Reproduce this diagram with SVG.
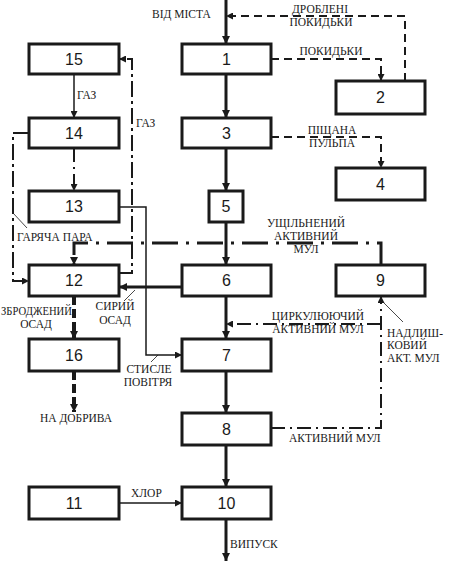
<svg xmlns="http://www.w3.org/2000/svg" width="450" height="563" viewBox="0 0 450 563">
<style>
.box{fill:#fff;stroke:#1a1a1a;stroke-width:3}
.num{font-family:"Liberation Sans",Arial,sans-serif;font-size:16px;fill:#1a1a1a;text-anchor:middle}
.lbl{font-family:"Liberation Serif","Times New Roman",serif;font-size:11.5px;fill:#1a1a1a}
.c{text-anchor:middle}
.e{text-anchor:end}
.ln{fill:none;stroke:#1a1a1a}
.main{stroke-width:3}
.thin{stroke-width:1.5}
.lead{stroke-width:0.8}
.dash{stroke-width:2;stroke-dasharray:8 5}
.dashthick{stroke-width:4;stroke-dasharray:9 4}
.ddthick{stroke-width:3;stroke-dasharray:26 8 3 8}
.dd{stroke-width:2;stroke-dasharray:14 5 2 5}
.dd2{stroke-width:2;stroke-dasharray:16 4 3 4}
</style>
<defs>
<marker id="a" viewBox="0 0 10 10" refX="10" refY="5" markerUnits="userSpaceOnUse" markerWidth="8" markerHeight="8" orient="auto">
<path d="M0,0 L10,5 L0,10 z" fill="#1a1a1a"/>
</marker>
<marker id="as" viewBox="0 0 10 10" refX="10" refY="5" markerUnits="userSpaceOnUse" markerWidth="7" markerHeight="7" orient="auto">
<path d="M0,0 L10,5 L0,10 z" fill="#1a1a1a"/>
</marker>
</defs>
<g id="connectors">
<line class="ln main" x1="226" y1="0" x2="226" y2="44" marker-end="url(#a)"/>
<line class="ln main" x1="226" y1="74" x2="226" y2="118" marker-end="url(#a)"/>
<line class="ln main" x1="226" y1="148" x2="226" y2="191" marker-end="url(#a)"/>
<line class="ln main" x1="226" y1="222" x2="226" y2="265" marker-end="url(#a)"/>
<line class="ln main" x1="226" y1="296" x2="226" y2="339" marker-end="url(#a)"/>
<line class="ln main" x1="226" y1="371" x2="226" y2="413" marker-end="url(#a)"/>
<line class="ln main" x1="226" y1="445" x2="226" y2="487" marker-end="url(#a)"/>
<line class="ln main" x1="226" y1="519" x2="226" y2="561" marker-end="url(#a)"/>
<polyline class="ln dash" points="405,81 405,16 226,16" marker-end="url(#as)"/>
<polyline class="ln dash" points="271,59 381,59 381,81" marker-end="url(#as)"/>
<polyline class="ln dash" points="271,137 381,137 381,168" marker-end="url(#as)"/>
<polyline class="ln ddthick" points="381,265 381,243 74,243 74,265" marker-end="url(#a)"/>
<line class="ln main" x1="182" y1="287" x2="119" y2="287" marker-end="url(#a)"/>
<polyline class="ln thin" points="119,207 146,207 146,355 182,355" marker-end="url(#as)"/>
<line class="ln dashthick" x1="74" y1="296" x2="74" y2="339" marker-end="url(#a)"/>
<line class="ln dashthick" x1="74" y1="371" x2="74" y2="412" marker-end="url(#a)"/>
<polyline class="ln dd" points="271,428 381,428 381,296" marker-end="url(#as)"/>
<line class="ln dd" x1="381" y1="324" x2="226" y2="324" marker-end="url(#as)"/>
<line class="ln thin" x1="119" y1="503" x2="182" y2="503" marker-end="url(#as)"/>
<line class="ln thin" x1="74" y1="74" x2="74" y2="118" marker-end="url(#as)"/>
<polyline class="ln dd2" points="119,273 132,273 132,59 119,59" marker-end="url(#as)"/>
<line class="ln dd" x1="74" y1="148" x2="74" y2="191" marker-end="url(#as)"/>
<polyline class="ln dd2" points="29,133 13,133 13,281 29,281" marker-end="url(#as)"/>
<line class="ln lead" x1="13" y1="213" x2="27" y2="228"/>
<line class="ln lead" x1="135" y1="290" x2="124" y2="301"/>
<line class="ln lead" x1="158" y1="355" x2="151" y2="362"/>
<line class="ln lead" x1="382" y1="301" x2="403" y2="322"/>
</g>
<g id="n1"><rect class="box" x="182" y="44" width="89" height="30"/><text class="num" x="226.5" y="65">1</text></g>
<g id="n2"><rect class="box" x="336" y="81" width="89" height="33"/><text class="num" x="380.5" y="103">2</text></g>
<g id="n3"><rect class="box" x="182" y="118" width="89" height="30"/><text class="num" x="226.5" y="139">3</text></g>
<g id="n4"><rect class="box" x="336" y="168" width="89" height="32"/><text class="num" x="380.5" y="190">4</text></g>
<g id="n5"><rect class="box" x="209" y="191" width="34" height="31"/><text class="num" x="226" y="212">5</text></g>
<g id="n6"><rect class="box" x="182" y="265" width="89" height="31"/><text class="num" x="226.5" y="286">6</text></g>
<g id="n7"><rect class="box" x="182" y="339" width="89" height="32"/><text class="num" x="226.5" y="361">7</text></g>
<g id="n8"><rect class="box" x="182" y="413" width="89" height="32"/><text class="num" x="226.5" y="435">8</text></g>
<g id="n9"><rect class="box" x="336" y="265" width="89" height="31"/><text class="num" x="380.5" y="286">9</text></g>
<g id="n10"><rect class="box" x="182" y="487" width="89" height="32"/><text class="num" x="226.5" y="509">10</text></g>
<g id="n11"><rect class="box" x="29" y="487" width="90" height="32"/><text class="num" x="74" y="509">11</text></g>
<g id="n12"><rect class="box" x="29" y="265" width="90" height="31"/><text class="num" x="74" y="286">12</text></g>
<g id="n13"><rect class="box" x="29" y="191" width="90" height="31"/><text class="num" x="74" y="212">13</text></g>
<g id="n14"><rect class="box" x="29" y="118" width="90" height="30"/><text class="num" x="74" y="139">14</text></g>
<g id="n15"><rect class="box" x="29" y="44" width="90" height="30"/><text class="num" x="74" y="65">15</text></g>
<g id="n16"><rect class="box" x="29" y="339" width="90" height="32"/><text class="num" x="74" y="361">16</text></g>
<g id="labels">
<text class="lbl" x="152" y="18">ВІД МІСТА</text>
<text class="lbl c" x="320" y="13">ДРОБЛЕНІ</text>
<text class="lbl c" x="321" y="26">ПОКИДЬКИ</text>
<text class="lbl c" x="331" y="55">ПОКИДЬКИ</text>
<text class="lbl c" x="332" y="134">ПІЩАНА</text>
<text class="lbl c" x="332" y="147">ПУЛЬПА</text>
<text class="lbl" x="77" y="99">ГАЗ</text>
<text class="lbl" x="136" y="127">ГАЗ</text>
<text class="lbl" x="17" y="241">ГАРЯЧА ПАРА</text>
<text class="lbl c" x="306" y="227">УЩІЛЬНЕНИЙ</text>
<text class="lbl c" x="306" y="240">АКТИВНИЙ</text>
<text class="lbl c" x="306" y="253">МУЛ</text>
<text class="lbl c" x="115" y="310">СИРИЙ</text>
<text class="lbl c" x="115" y="324">ОСАД</text>
<text class="lbl" x="1" y="315" textLength="71" lengthAdjust="spacingAndGlyphs">ЗБРОДЖЕНИЙ</text>
<text class="lbl c" x="36" y="328">ОСАД</text>
<text class="lbl c" x="149" y="373">СТИСЛЕ</text>
<text class="lbl c" x="148" y="386">ПОВІТРЯ</text>
<text class="lbl c" x="76" y="422">НА ДОБРИВА</text>
<text class="lbl c" x="318" y="320">ЦИРКУЛЮЮЧИЙ</text>
<text class="lbl c" x="318" y="333">АКТИВНИЙ МУЛ</text>
<text class="lbl" x="387" y="337">НАДЛИШ-</text>
<text class="lbl" x="387" y="349">КОВИЙ</text>
<text class="lbl" x="387" y="362">АКТ. МУЛ</text>
<text class="lbl" x="289" y="442">АКТИВНИЙ МУЛ</text>
<text class="lbl" x="131" y="497">ХЛОР</text>
<text class="lbl" x="230" y="548">ВИПУСК</text>
</g>
</svg>
